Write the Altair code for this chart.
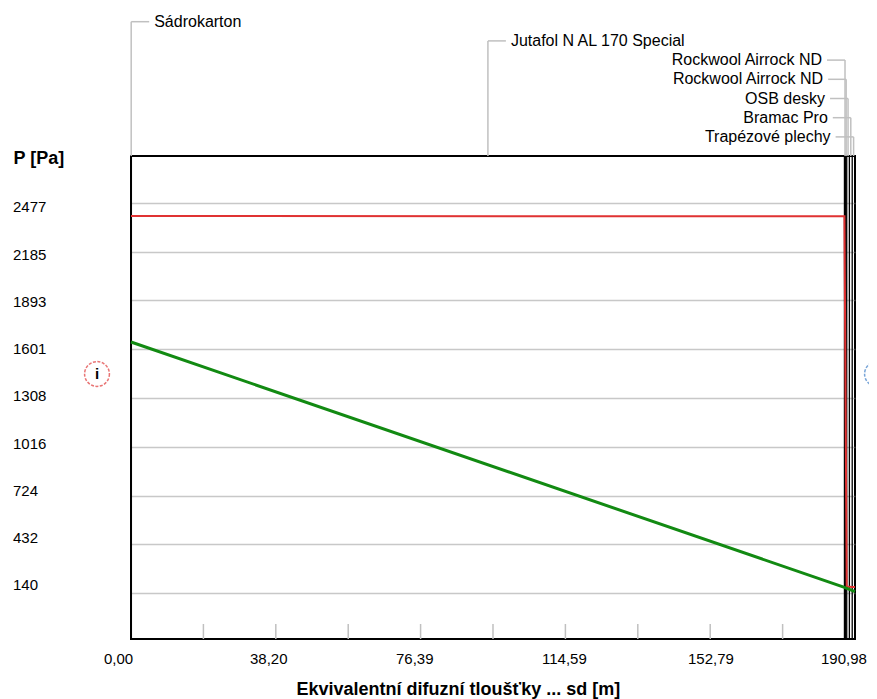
import altair as alt
import pandas as pd

FONT = "Liberation Sans"

# Layers of the construction (interior -> exterior), equivalent diffusion thickness sd [m]
layer_names = ["Sádrokarton", "Jutafol N AL 170 Special", "Rockwool Airrock ND",
               "Rockwool Airrock ND", "OSB desky", "Bramac Pro", "Trapézové plechy"]
layer_sd = [0.10, 188.10, 0.30, 0.30, 0.70, 0.75, 0.734]
label_side = ["left", "left", "right", "right", "right", "right", "right"]

# Saturated water vapour pressure (red)
sat_sd = [0.0, 0.10, 188.20, 188.50, 188.80, 189.50, 190.25, 190.984]
sat_p = [2399, 2399, 2397, 1290, 178, 177, 176, 176]

# Partial water vapour pressure (green)
par_sd = [0.0, 188.20, 190.984]
par_p = [1644, 174, 148]

# Axis ticks / labels
y_ticks = [2477, 2185, 1893, 1601, 1308, 1016, 724, 432, 140]
x_labels = [0.0, 38.197, 76.394, 114.590, 152.787, 190.984]
x_minor = [19.10, 38.20, 57.30, 76.39, 95.49, 114.59, 133.69, 152.79, 171.89]

# ---- tables built from the arrays ----
cum, s = [], 0.0
for v in layer_sd:
    s += v
    cum.append(s)
layers_df = pd.DataFrame({
    "name": layer_names,
    "side": label_side,
    "row": list(range(len(layer_names))),
    "end": cum,
    "center": [c - v / 2 for c, v in zip(cum, layer_sd)],
})
sat_df = pd.DataFrame({"sd": sat_sd, "p": sat_p})
par_df = pd.DataFrame({"sd": par_sd, "p": par_p})
yt_df = pd.DataFrame({"v": y_ticks, "lab": [str(t) for t in y_ticks]})
xt_df = pd.DataFrame({"v": x_labels})
minor_df = pd.DataFrame({"t": x_minor})
marker_df = pd.DataFrame({"lab": ["i", "e"], "c": ["#e03a3a", "#3f7fc8"]})

xscale = alt.Scale(domain=[0, 190.984], nice=False, zero=False)
yscale = alt.Scale(domain=[-135.6, 2758.6], nice=False, zero=False)

x_axis = alt.Axis(
    values=x_labels, labels=False, ticks=False, domain=False, grid=False,
    title="Ekvivalentní difuzní tloušťky ... sd [m]",
    titleFont=FONT, titleFontSize=18, titleFontWeight="bold", titleColor="black",
    titleX=165, titleY=55, titleAlign="left", titleAnchor="start", titleBaseline="alphabetic",
)
y_axis = alt.Axis(
    values=y_ticks, labels=False, ticks=False, domain=False,
    grid=True, gridColor="#c8c8c8", gridWidth=1.5,
    title="P [Pa]", titleAngle=0, titleX=-118, titleY=2,
    titleAlign="left", titleBaseline="middle", titleAnchor="start",
    titleFont=FONT, titleFontSize=18, titleFontWeight="bold", titleColor="black",
)


def xenc(field):
    return alt.X(field, type="quantitative", scale=xscale, axis=x_axis)


def yenc(field):
    return alt.Y(field, type="quantitative", scale=yscale, axis=y_axis)


# inner tick marks at the bottom of the plot
minor_ticks = alt.Chart(minor_df).mark_rule(color="#c0c0c0", strokeWidth=1.5).encode(
    x=xenc("t"), y=alt.value(483), y2=alt.value(468)
)

# layer boundaries
bounds = alt.Chart(layers_df).mark_rule(color="black", strokeWidth=1.3).encode(x=xenc("end"))

sat_line = alt.Chart(sat_df).mark_line(color="#e03232", strokeWidth=2).encode(
    x=xenc("sd"), y=yenc("p")
)
par_line = alt.Chart(par_df).mark_line(color="#128a12", strokeWidth=3).encode(
    x=xenc("sd"), y=yenc("p")
)

# y tick labels (slightly offset from gridlines as in the original)
y_labels = alt.Chart(yt_df).mark_text(
    align="left", baseline="middle", font=FONT, fontSize=15, color="black",
    dy=alt.expr("-8 + 12.5 * (datum.v - 140) / 2337"),
).encode(x=alt.value(-118), y=yenc("v"), text="lab:N")

# x tick labels with decimal comma
x_tick_labels = alt.Chart(xt_df).transform_calculate(
    lab="replace(format(datum.v, '.2f'), '.', ',')"
).mark_text(
    align="left", baseline="middle", font=FONT, fontSize=15, color="black",
    dx=alt.expr("datum.v > 190 ? -34 : -27 + 1.2 * round(datum.v / 38.197)"),
).encode(x=xenc("v"), y=alt.value(503), text="lab:N")

# layer name labels with leader lines
lab_base = alt.Chart(layers_df).transform_calculate(ypx="-134.3 + 19.2 * datum.row")
leader_v = lab_base.mark_rule(color="#c0c0c0", strokeWidth=1.5).encode(
    x=xenc("center"), y=alt.Y("ypx:Q", scale=None), y2=alt.value(0)
)
left_base = lab_base.transform_filter("datum.side == 'left'")
right_base = lab_base.transform_filter("datum.side == 'right'")
leader_hl = left_base.mark_rule(color="#c0c0c0", strokeWidth=1.5, x2Offset=18).encode(
    x=xenc("center"), x2="center", y=alt.Y("ypx:Q", scale=None)
)
leader_hr = right_base.mark_rule(color="#c0c0c0", strokeWidth=1.5, x2Offset=-18).encode(
    x=xenc("center"), x2="center", y=alt.Y("ypx:Q", scale=None)
)
text_l = left_base.mark_text(align="left", baseline="middle", dx=23, font=FONT,
                             fontSize=16, color="black").encode(
    x=xenc("center"), y=alt.Y("ypx:Q", scale=None), text="name:N"
)
text_r = right_base.mark_text(align="right", baseline="middle", dx=-23, font=FONT,
                              fontSize=16, color="black").encode(
    x=xenc("center"), y=alt.Y("ypx:Q", scale=None), text="name:N"
)

# interior / exterior side markers (decoration)
mk_base = alt.Chart(marker_df).transform_calculate(
    xpx="datum.lab == 'i' ? -34 : 746"
)
markers = mk_base.mark_point(shape="circle", size=616, filled=False, strokeWidth=1.5,
                             strokeDash=[3, 1.5]).encode(
    x=alt.X("xpx:Q", scale=None), y=alt.value(218), color=alt.Color("c:N", scale=None)
)
marker_txt = mk_base.transform_filter("datum.lab == 'i'").mark_text(
    font=FONT, fontSize=15, fontWeight="bold", color="black", baseline="middle"
).encode(x=alt.X("xpx:Q", scale=None), y=alt.value(218), text="lab:N")

chart = alt.layer(
    minor_ticks, bounds, sat_line, par_line, y_labels, x_tick_labels,
    leader_v, leader_hl, leader_hr, text_l, text_r, markers, marker_txt,
).properties(
    width=724, height=483,
    autosize=alt.AutoSizeParams(type="none"),
    padding={"left": 123, "top": 148, "right": 14, "bottom": 60},
    background="white",
).configure_view(stroke="black", strokeWidth=2)

chart.save("out.html", embed_options={"renderer": "svg", "actions": False})
